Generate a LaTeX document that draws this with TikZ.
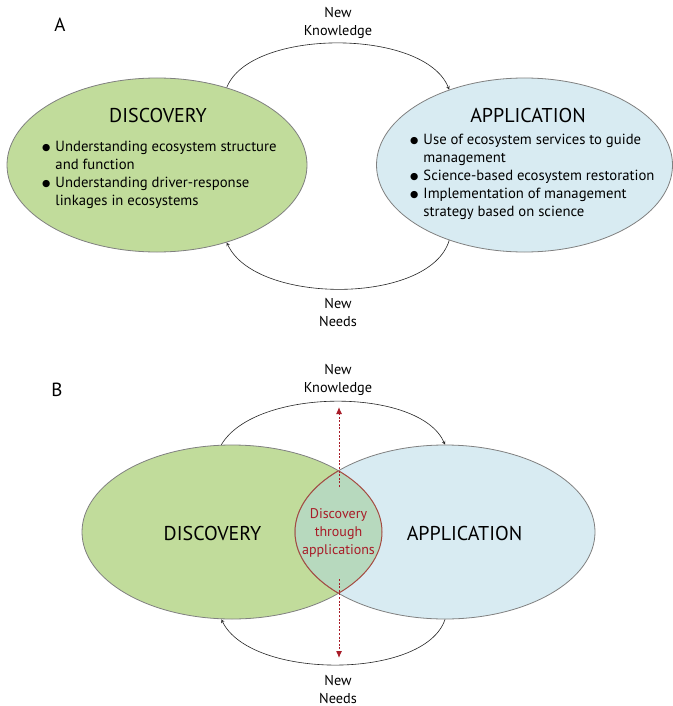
\documentclass[tikz,border=0pt]{standalone}
\usepackage{fontspec}
\setmainfont{PT Sans}
\newfontfamily\dotfont{DejaVu Sans}
\usetikzlibrary{shapes.geometric,arrows.meta}
\definecolor{discgreen}{RGB}{193,220,155}
\definecolor{appblue}{RGB}{216,235,242}
\definecolor{lensgreen}{RGB}{183,217,190}
\definecolor{lensred}{RGB}{165,75,65}
\definecolor{darkred}{RGB}{168,28,40}
\tikzset{>=stealth}
\newcommand{\bul}{\raisebox{0.6pt}{\dotfont\fontsize{9.5}{9.5}\selectfont ●}}
\newcommand{\bodysize}{\fontsize{14.7}{18}\selectfont}

\begin{document}
\begin{tikzpicture}[x=1pt,y=-1pt,
    blob/.style={ellipse,draw=black!50,line width=0.8pt,minimum width=300pt,minimum height=174pt,inner sep=0pt},
    disc/.style={blob,fill=discgreen},
    app/.style={blob,fill=appblue},
    title/.style={font=\fontsize{20}{22}\selectfont,anchor=base},
    label/.style={font=\fontsize{14.3}{18}\selectfont,align=center,inner sep=0pt},
    items/.style={font=\bodysize,anchor=base west,inner sep=0pt},
    flow/.style={draw=black!85,line width=0.6pt},
    reddash/.style={draw=darkred,line width=1pt,dash pattern=on 2pt off 1.6pt,-{Latex[length=7pt,width=6pt]}}]
  \useasboundingbox[fill=white] (0,0) rectangle (672,706);

  % A
  \node[font=\fontsize{19}{19}\selectfont] (labA) at (60,25) {A};
  \node[disc] (discA) at (157,165) {};
  \node[app,minimum width=296pt] (appA) at (524.5,165) {};
  \node[title] (dtitA) at (158,122) {DISCOVERY};
  \node[title] (atitA) at (528,122) {APPLICATION};
  \node[items] (dlist) at (42,151) {\begin{tabular}[t]{@{}c@{\hspace{5pt}}l@{}}
      \bul & Understanding ecosystem structure\\
           & and function\\
      \bul & Understanding driver-response\\
           & linkages in ecosystems
    \end{tabular}};
  \node[items] (alist) at (410,144) {\begin{tabular}[t]{@{}c@{\hspace{5pt}}l@{}}
      \bul & Use of ecosystem services to guide\\
           & management\\
      \bul & Science-based ecosystem restoration\\
      \bul & Implementation of management\\
           & strategy based on science
    \end{tabular}};
  \node[label] (knowA) at (338,23) {New\\Knowledge};
  \node[label] (needA) at (338,312) {New\\Needs};
  \draw[flow,->] (discA.48) .. controls (250,28) and (425,28) .. (appA.135);
  \draw[flow,->] (appA.225) .. controls (430,305) and (255,305) .. (discA.-48);

  % B
  \node[font=\fontsize{19}{19}\selectfont] (labB) at (57,390) {B};
  \node[disc] (discB) at (232,532) {};
  \node[app] (appB) at (445,532) {};
  \begin{scope}
    \clip (discB.center) ellipse [x radius=150pt,y radius=87pt];
    \fill[lensgreen] (appB.center) ellipse [x radius=150pt,y radius=87pt];
    \draw[lensred,line width=1pt] (appB.center) ellipse [x radius=150pt,y radius=87pt];
  \end{scope}
  \begin{scope}
    \clip (appB.center) ellipse [x radius=150pt,y radius=87pt];
    \draw[lensred,line width=1pt] (discB.center) ellipse [x radius=150pt,y radius=87pt];
  \end{scope}
  \node[title] (dtitB) at (212.5,540) {DISCOVERY};
  \node[title] (atitB) at (464.5,540) {APPLICATION};
  \node[label,font=\fontsize{14}{18}\selectfont,text=darkred] (lens) at (338.5,533) {Discovery\\through\\applications};
  \node[label] (knowB) at (338,380) {New\\Knowledge};
  \node[label] (needB) at (338,689) {New\\Needs};
  \draw[flow,->] (discB.97) .. controls (255,387) and (420,387) .. (appB.north);
  \draw[flow,->] (appB.south) .. controls (425,680) and (250,680) .. (discB.263);
  \coordinate (upS) at (339,487);
  \coordinate (upE) at (339,407);
  \coordinate (dnS) at (339,579);
  \coordinate (dnE) at (339,658);
  \draw[reddash] (upS) -- (upE);
  \draw[reddash] (dnS) -- (dnE);
\end{tikzpicture}
\end{document}
